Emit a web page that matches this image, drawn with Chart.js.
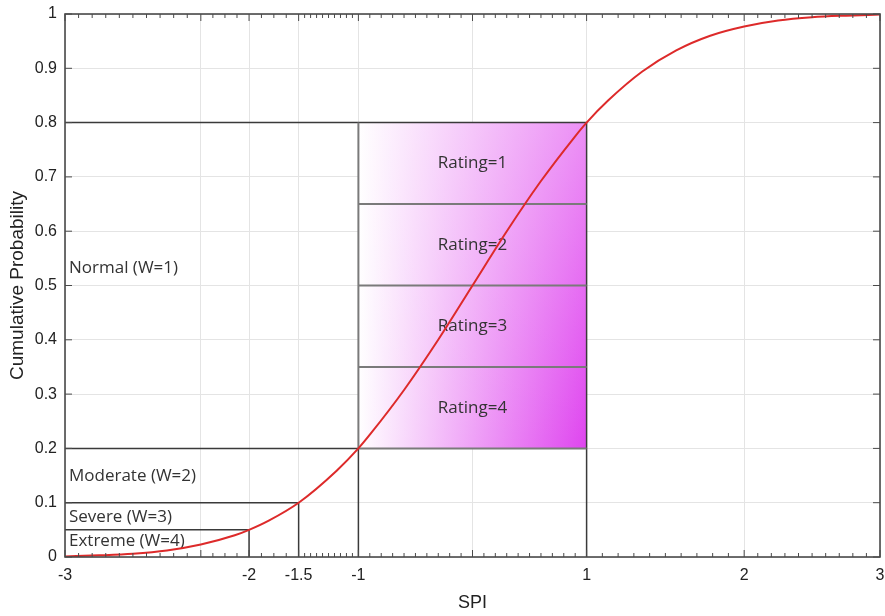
<!DOCTYPE html>
<html>
<head>
<meta charset="utf-8">
<script src="https://cdn.jsdelivr.net/npm/chart.js@4.4.1/dist/chart.umd.min.js"></script>
<style>
  html, body { margin: 0; background: #fff; }
  #wrap { width: 885px; height: 616px; }
</style>
</head>
<body>
<div id="wrap"><canvas id="spiChart"></canvas></div>
<script>
// cumulative probability curve
const spiX = [-3, -2.75, -2.5, -2.25, -2, -1.75, -1.645, -1.5, -1.28, -1, -0.84, -0.75, -0.5, -0.25,
  0, 0.25, 0.5, 0.75, 0.84, 1, 1.25, 1.5, 1.75, 2, 2.25, 2.5, 2.75, 3];
const cumProb = [0.001, 0.003, 0.006, 0.012, 0.023, 0.040, 0.050, 0.067, 0.100, 0.159, 0.200, 0.227, 0.309, 0.401,
  0.500, 0.599, 0.691, 0.773, 0.800, 0.841, 0.894, 0.933, 0.960, 0.977, 0.988, 0.994, 0.997, 0.999];

// axis ticks (x positions are the z values where the SPI classes sit)
const xTickPos = [-3, -2, -1.645, -1.28, -0.84, 0, 0.84, 2, 3];
const xTickText = ["-3", "", "-2", "-1.5", "-1", "", "1", "2", "3"];
const xMinorDiv = [10, 4, 4, 10, 10, 10, 10, 10];
const yTicks = [0, 0.1, 0.2, 0.3, 0.4, 0.5, 0.6, 0.7, 0.8, 0.9, 1];

// threshold lines: [probability, spi end] from the left edge, [spi, probability top] from 0
const hLines = [[0.05, -1.645], [0.1, -1.28], [0.2, -0.84], [0.8, 0.84]];
const vLines = [[-1.645, 0.05], [-1.28, 0.1], [-0.84, 0.2], [0.84, 0.8]];

// rating box
const boxSpi = [-0.84, 0.84];
const ratingBounds = [0.8, 0.65, 0.5, 0.35, 0.2];
const ratingNames = ["Rating=1", "Rating=2", "Rating=3", "Rating=4"];

// class labels
const classNames = ["Normal (W=1)", "Moderate (W=2)", "Severe (W=3)", "Extreme (W=4)"];
const classY = [0.532, 0.149, 0.074, 0.029];

const dark = "#3a3a3a";
const boxGray = "#7a7a7a";

const datasets = [{
  data: spiX.map((x, i) => ({ x: x, y: cumProb[i] })),
  borderColor: "#dd2a2a",
  borderWidth: 2,
  cubicInterpolationMode: "monotone",
  order: 0
}];
hLines.forEach(h => datasets.push({ data: [{ x: -3, y: h[0] }, { x: h[1], y: h[0] }], borderColor: dark, borderWidth: 1.5, order: 2 }));
vLines.forEach(v => datasets.push({ data: [{ x: v[0], y: 0 }, { x: v[0], y: v[1] }], borderColor: dark, borderWidth: 1.5, order: 2 }));
ratingBounds.slice(1).forEach(b => datasets.push({ data: [{ x: boxSpi[0], y: b }, { x: boxSpi[1], y: b }], borderColor: boxGray, borderWidth: 2, order: 1 }));
datasets.push({ data: [{ x: boxSpi[0], y: ratingBounds[4] }, { x: boxSpi[0], y: ratingBounds[0] }], borderColor: boxGray, borderWidth: 2, order: 1 });
datasets.forEach(d => { d.showLine = true; d.pointRadius = 0; d.fill = false; });

const decor = {
  id: "decor",
  beforeDatasetsDraw(chart) {
    const { ctx } = chart;
    const xs = chart.scales.x, ys = chart.scales.y;
    const l = xs.getPixelForValue(boxSpi[0]), r = xs.getPixelForValue(boxSpi[1]);
    const t = ys.getPixelForValue(ratingBounds[0]), b = ys.getPixelForValue(ratingBounds[4]);
    ctx.save();
    let g = ctx.createLinearGradient(l, 0, r, 0);
    g.addColorStop(0, "#ffffff");
    g.addColorStop(1, "#df45ef");
    ctx.fillStyle = g;
    ctx.fillRect(l, t, r - l, b - t);
    g = ctx.createLinearGradient(0, t, 0, b);
    g.addColorStop(0, "rgba(255,255,255,0.4)");
    g.addColorStop(1, "rgba(255,255,255,0)");
    ctx.fillStyle = g;
    ctx.fillRect(l, t, r - l, b - t);

    ctx.fillStyle = "#333";
    ctx.font = "17px 'Open Sans'";
    ctx.textBaseline = "middle";
    ctx.textAlign = "center";
    ratingNames.forEach((n, i) => {
      const y = ys.getPixelForValue((ratingBounds[i] + ratingBounds[i + 1]) / 2);
      ctx.fillText(n, (l + r) / 2, y);
    });
    ctx.textAlign = "left";
    classNames.forEach((n, i) => ctx.fillText(n, xs.left + 4, ys.getPixelForValue(classY[i])));
    ctx.restore();
  },
  afterDraw(chart) {
    const { ctx, chartArea: a } = chart;
    const xs = chart.scales.x, ys = chart.scales.y;
    ctx.save();
    ctx.strokeStyle = "#4a4a4a";
    ctx.lineWidth = 1;
    ctx.beginPath();
    for (let i = 0; i < xTickPos.length; i++) {
      const p = xs.getPixelForValue(xTickPos[i]);
      ctx.moveTo(p, a.bottom); ctx.lineTo(p, a.bottom - 7);
      ctx.moveTo(p, a.top); ctx.lineTo(p, a.top + 7);
      if (i < xMinorDiv.length) {
        const step = (xTickPos[i + 1] - xTickPos[i]) / xMinorDiv[i];
        for (let k = 1; k < xMinorDiv[i]; k++) {
          const q = xs.getPixelForValue(xTickPos[i] + k * step);
          ctx.moveTo(q, a.bottom); ctx.lineTo(q, a.bottom - 4);
          ctx.moveTo(q, a.top); ctx.lineTo(q, a.top + 4);
        }
      }
    }
    yTicks.forEach(v => {
      const p = ys.getPixelForValue(v);
      ctx.moveTo(a.left, p); ctx.lineTo(a.left + 7, p);
      ctx.moveTo(a.right, p); ctx.lineTo(a.right - 7, p);
    });
    ctx.stroke();
    ctx.lineWidth = 1.6;
    ctx.strokeRect(a.left, a.top, a.right - a.left, a.bottom - a.top);
    ctx.restore();
  }
};

new Chart(document.getElementById("spiChart"), {
  type: "scatter",
  data: { datasets: datasets },
  plugins: [decor],
  options: {
    responsive: true,
    maintainAspectRatio: false,
    animation: false,
    layout: { autoPadding: false, padding: { top: 14, right: 5, left: 0, bottom: 0 } },
    plugins: { legend: { display: false }, tooltip: { enabled: false } },
    scales: {
      x: {
        type: "linear", min: -3, max: 3,
        afterBuildTicks: s => { s.ticks = xTickPos.map(v => ({ value: v })); },
        afterFit: s => { s.height = 59; s.paddingLeft = 0; s.paddingRight = 0; },
        ticks: {
          callback: (v, i) => xTickText[i],
          autoSkip: false, maxRotation: 0, padding: 9,
          color: "#222", font: { family: "'Liberation Sans', Arial", size: 16 }
        },
        grid: { color: "#e4e4e4", drawTicks: false },
        border: { display: false },
        title: {
          display: true, text: "SPI", color: "#222",
          font: { family: "'Liberation Sans', Arial", size: 18 },
          padding: { top: 0, bottom: 2 }
        }
      },
      y: {
        min: 0, max: 1,
        afterBuildTicks: s => { s.ticks = yTicks.map(v => ({ value: v })); },
        afterFit: s => { s.width = 65; s.paddingTop = 0; s.paddingBottom = 0; },
        ticks: {
          callback: v => String(v),
          padding: 8,
          color: "#222", font: { family: "'Liberation Sans', Arial", size: 16 }
        },
        grid: { color: "#e4e4e4", drawTicks: false },
        border: { display: false },
        title: {
          display: true, text: "Cumulative Probability", color: "#222",
          font: { family: "'Liberation Sans', Arial", size: 19 },
          padding: { top: 6, bottom: 0 }
        }
      }
    }
  }
});
</script>
</body>
</html>
